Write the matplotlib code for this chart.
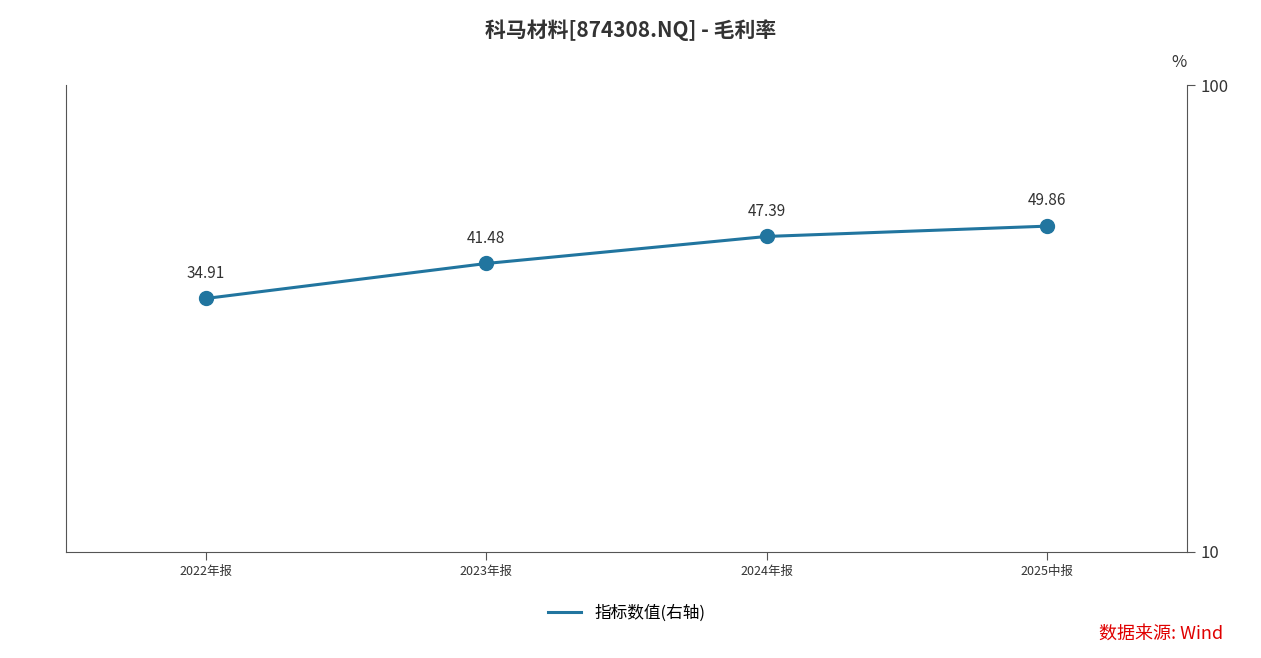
import matplotlib
matplotlib.use("Agg")
import matplotlib.pyplot as plt
from matplotlib.ticker import FixedLocator, NullLocator

plt.rcParams['font.family'] = ['Noto Sans CJK SC', 'DejaVu Sans']

categories = ["2022年报", "2023年报", "2024年报", "2025中报"]
values = [34.91, 41.48, 47.39, 49.86]

W, H = 1261, 658
fig = plt.figure(figsize=(W/100, H/100), dpi=100)
ax = fig.add_axes([66/W, 1-552/H, (1187-66)/W, (552-85)/H])
color = "#21759f"
x = list(range(len(categories)))
ax.plot(x, values, color=color, lw=2.2, marker='o', ms=10, zorder=3)
for xi, v in zip(x, values):
    ax.annotate(f"{v:.2f}", (xi, v), xytext=(0, 12), textcoords='offset points',
                ha='center', va='bottom', fontsize=11, color='#333333')
ax.set_xlim(-0.5, 3.5)
ax.set_yscale('log')
ax.set_ylim(10, 100)
ax.yaxis.tick_right()
ax.yaxis.set_major_locator(FixedLocator([10, 100]))
ax.yaxis.set_minor_locator(NullLocator())
ax.set_yticklabels(["10", "100"], fontsize=12, color='#333333')
ax.set_xticks(x)
ax.set_xticklabels(categories, fontsize=9, color='#333333')
ax.spines['top'].set_visible(False)
for s in ['left', 'right', 'bottom']:
    ax.spines[s].set_color('#555555')
ax.tick_params(axis='both', colors='#555555', labelcolor='#333333', length=6)
ax.text(1.0, 1.03, "%", transform=ax.transAxes, ha='right', va='bottom', fontsize=12, color='#333333')
fig.text(0.5, 1-30/H, "科马材料[874308.NQ] - 毛利率", ha='center', va='center',
         fontsize=15, fontweight='bold', color='#333333')
ax.legend(["指标数值(右轴)"], loc='upper center', bbox_to_anchor=(0.5, -0.08),
          frameon=False, fontsize=12, handlelength=2, markerscale=0)
leg = ax.get_legend()
leg.legend_handles[0].set_marker('')
fig.text(1223/W, 1-634/H, "数据来源: Wind", ha='right', va='center', fontsize=13, color='#e00000')
fig.savefig("out.png", dpi=100)
